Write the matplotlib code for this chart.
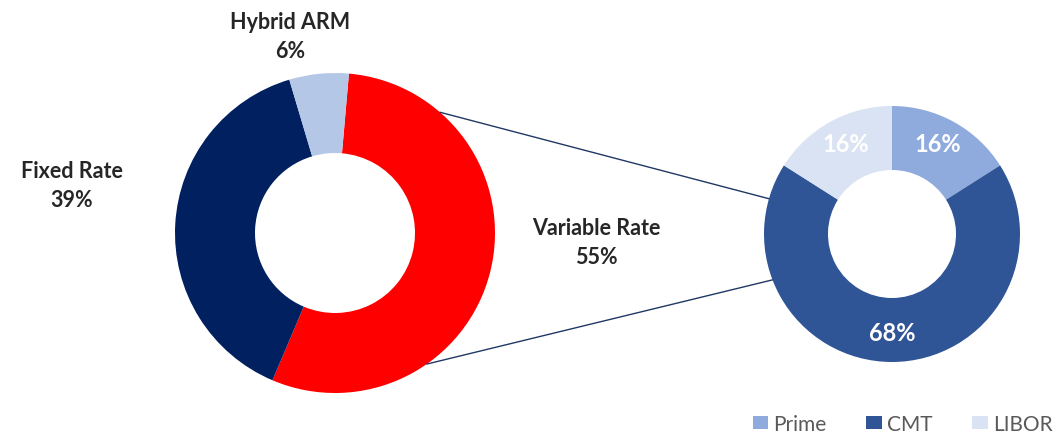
import matplotlib
matplotlib.use("Agg")
import matplotlib.pyplot as plt
from matplotlib.patches import ConnectionPatch, Patch
import numpy as np

# Data
main_labels = ["Variable Rate", "Fixed Rate", "Hybrid ARM"]
main_values = [55, 39, 6]
main_colors = ["#FF0000", "#002060", "#B4C7E7"]

sub_labels = ["Prime", "CMT", "LIBOR"]
sub_values = [16, 68, 16]
sub_colors = ["#8FAADC", "#2F5597", "#DAE3F3"]

W, H = 1064, 435
fig = plt.figure(figsize=(W / 100, H / 100), dpi=100)
plt.rcParams['font.family'] = ['Lato', 'DejaVu Sans']

def px_axes(cx, cy, r):
    return fig.add_axes([(cx - r) / W, (H - cy - r) / H, 2 * r / W, 2 * r / H])

# Left donut
axL = px_axes(335, 234, 160)
wedgesL, _ = axL.pie(main_values, colors=main_colors, startangle=85, counterclock=False,
                     radius=1.0, wedgeprops=dict(width=0.5, edgecolor='none'))
axL.set_xlim(-1, 1); axL.set_ylim(-1, 1); axL.set_aspect('equal'); axL.axis('off')

# Right donut
axR = px_axes(892, 235, 128)
wedgesR, _ = axR.pie(sub_values, colors=sub_colors, startangle=90, counterclock=False,
                     radius=1.0, wedgeprops=dict(width=0.5, edgecolor='none'))
axR.set_xlim(-1, 1); axR.set_ylim(-1, 1); axR.set_aspect('equal'); axR.axis('off')

# Labels inside the right donut
for w, v in zip(wedgesR, sub_values):
    ang = np.deg2rad((w.theta1 + w.theta2) / 2)
    r = 0.75
    axR.text(r * np.cos(ang), r * np.sin(ang) + (-0.02 if v > 50 else 0.05), f"{v}%",
             ha='center', va='center', color='white', fontsize=17, fontweight='bold')

# Outside labels for the left donut (figure pixel positions)
label_pos = {"Variable Rate": (596, 243), "Fixed Rate": (72, 186), "Hybrid ARM": (290, 37)}
for lab, v in zip(main_labels, main_values):
    x, y = label_pos[lab]
    fig.text(x / W, 1 - y / H, f"{lab}\n{v}%", ha='center', va='center',
             fontsize=15.5, fontweight='bold', color='#262626', linespacing=1.45)

# Connector lines from the variable-rate wedge to the breakdown donut
angA = [49, -55]
angB = [164, 201]
for a1, a2 in zip(angA, angB):
    p1 = (np.cos(np.deg2rad(a1)), np.sin(np.deg2rad(a1)))
    p2 = (np.cos(np.deg2rad(a2)), np.sin(np.deg2rad(a2)))
    con = ConnectionPatch(xyA=p1, coordsA=axL.transData, xyB=p2, coordsB=axR.transData,
                          color='#1F3864', lw=1.0)
    fig.add_artist(con)

# Legend
handles = [Patch(facecolor=c, edgecolor='none') for c in sub_colors]
fig.legend(handles, sub_labels, loc='lower right', bbox_to_anchor=(1.007, -0.042), ncol=3,
           frameon=False, fontsize=15, handlelength=0.75, handleheight=0.6,
           handletextpad=0.25, columnspacing=1.9, labelcolor='#595959')

fig.savefig("out.png", dpi=100)
